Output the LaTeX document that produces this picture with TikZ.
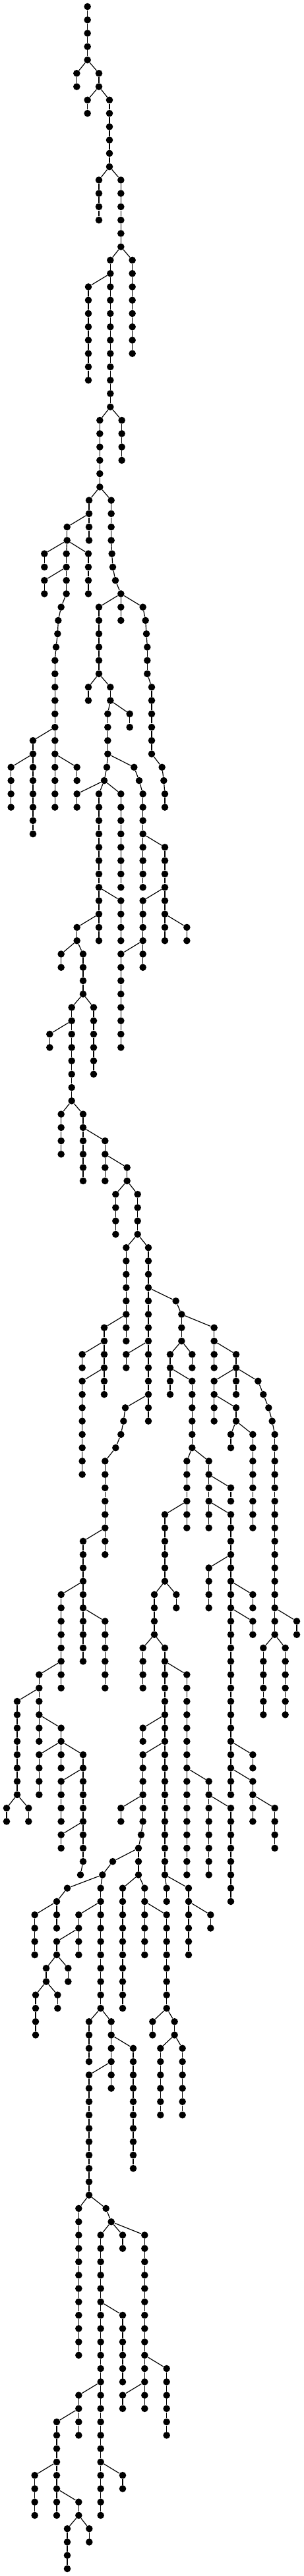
\documentclass[tikz,border=0pt]{standalone}
\tikzset{dot/.style={circle,fill=black,draw=none,minimum size=5.3pt,inner sep=0pt},
  edge/.style={line width=0.6pt,black}}
\newcommand\chain[4]{%
  \foreach \k in {#3,...,#4}{\node[dot] (#1-\k) at (#2,\k+0.4936) {};}%
  \ifnum#4>#3\relax
    \pgfmathtruncatemacro\chstart{#3+1}%
    \foreach \k in {\chstart,...,#4}{\pgfmathtruncatemacro\kp{\k-1}\draw[edge] (#1-\kp) -- (#1-\k);}%
  \fi}
\newcommand\nd[3]{\node[dot] (#1) at (#2,#3+0.4936) {};}
\newcommand\ed[2]{\draw[edge] (#1) -- (#2);}
\begin{document}
\begin{tikzpicture}[x=0.1666667pt,y=-10.13pt]
\useasboundingbox (0,0) rectangle (1380,193.04);
\chain{c1}{398}{0}{4}
\chain{c2}{349}{5}{6}
\chain{c3}{450}{5}{6}
\chain{c4}{398}{7}{8}
\chain{c5}{498}{7}{12}
\chain{c6}{450}{13}{16}
\chain{c7}{550}{13}{18}
\chain{c8}{502}{19}{30}
\chain{c9}{602}{19}{26}
\chain{c10}{402}{21}{28}
\chain{c11}{454}{31}{36}
\chain{c12}{554}{31}{34}
\chain{c13}{405}{37}{40}
\chain{c14}{506}{37}{40}
\chain{c15}{305}{39}{40}
\chain{c16}{202}{41}{42}
\chain{c17}{302}{41}{44}
\chain{c18}{402}{41}{44}
\chain{c19}{202}{43}{44}
\chain{c20}{250}{49}{60}
\chain{c21}{450}{45}{50}
\chain{c22}{550}{45}{46}
\chain{c23}{670}{48}{50}
\chain{c24}{690}{51}{56}
\chain{c25}{750}{59}{60}
\chain{c26}{150}{55}{62}
\chain{c27}{350}{57}{58}
\chain{c28}{50}{57}{60}
\chain{c29}{402}{51}{52}
\chain{c30}{502}{51}{52}
\chain{c31}{590}{53}{54}
\chain{c32}{490}{53}{56}
\chain{c33}{350}{59}{60}
\chain{c34}{450}{59}{70}
\chain{c35}{550}{59}{66}
\chain{c37}{650}{59}{66}
\chain{c38}{750}{63}{70}
\chain{c39}{550}{67}{70}
\chain{c40}{350}{69}{70}
\chain{c41}{650}{67}{72}
\chain{c42}{850}{69}{70}
\chain{c43}{550}{71}{78}
\chain{c44}{278}{71}{72}
\chain{c45}{378}{71}{74}
\chain{c46}{326}{75}{82}
\chain{c47}{426}{75}{80}
\chain{c48}{226}{77}{78}
\chain{c49}{278}{83}{86}
\chain{c50}{378}{83}{88}
\chain{c51}{478}{85}{88}
\chain{c52}{578}{87}{88}
\chain{c53}{526}{89}{92}
\chain{c54}{626}{89}{92}
\chain{c55}{574}{93}{100}
\chain{c56}{675}{93}{106}
\chain{c57}{826}{98}{100}
\chain{c58}{974}{99}{102}
\chain{c59}{774}{101}{104}
\chain{c60}{874}{101}{102}
\chain{c61}{874}{103}{108}
\chain{c62}{850}{109}{114}
\chain{c63}{950}{109}{114}
\chain{c64}{1050}{111}{112}
\chain{c65}{1050}{113}{134}
\chain{c66}{1074}{101}{102}
\chain{c67}{974}{103}{106}
\chain{c68}{1074}{103}{104}
\chain{c69}{1250}{107}{122}
\chain{c70}{1074}{105}{106}
\chain{c71}{1050}{107}{108}
\chain{c72}{1150}{107}{114}
\chain{c73}{1350}{121}{122}
\chain{c74}{1198}{123}{128}
\chain{c75}{1298}{123}{128}
\chain{c76}{474}{99}{104}
\chain{c77}{374}{101}{102}
\chain{c78}{374}{103}{110}
\chain{c79}{574}{101}{102}
\chain{c80}{478}{109}{116}
\chain{c81}{378}{115}{124}
\chain{c82}{478}{121}{126}
\chain{c83}{278}{119}{126}
\chain{c84}{178}{125}{130}
\chain{c85}{78}{127}{134}
\chain{c86}{30}{135}{136}
\chain{c87}{130}{135}{136}
\chain{c88}{278}{129}{130}
\chain{c89}{178}{131}{134}
\chain{c90}{278}{131}{132}
\chain{c91}{378}{131}{139}
\chain{c92}{278}{133}{136}
\chain{c93}{278}{137}{138}
\chain{c94}{750}{113}{118}
\chain{c95}{702}{119}{122}
\chain{c96}{802}{119}{120}
\chain{c97}{650}{123}{126}
\chain{c98}{750}{123}{140}
\chain{c99}{850}{125}{140}
\chain{c100}{950}{133}{140}
\chain{c101}{950}{117}{120}
\chain{c102}{1150}{119}{120}
\chain{c103}{1150}{121}{122}
\chain{c104}{1150}{131}{132}
\chain{c105}{1150}{133}{136}
\chain{c106}{1250}{135}{138}
\chain{c107}{1050}{135}{142}
\chain{c108}{650}{129}{130}
\chain{c109}{650}{131}{136}
\chain{c110}{630}{138}{140}
\chain{c111}{550}{135}{136}
\chain{c112}{458}{141}{150}
\chain{c113}{158}{143}{146}
\chain{c114}{258}{143}{144}
\chain{c115}{358}{143}{146}
\chain{c116}{558}{141}{150}
\chain{c117}{658}{141}{146}
\chain{c118}{758}{143}{150}
\chain{c119}{758}{141}{142}
\chain{c120}{858}{141}{146}
\chain{c121}{958}{143}{144}
\chain{c122}{258}{145}{146}
\chain{c123}{310}{147}{148}
\chain{c124}{210}{147}{148}
\chain{c125}{162}{149}{152}
\chain{c126}{262}{149}{150}
\chain{c127}{405}{151}{154}
\chain{c128}{506}{151}{156}
\chain{c129}{606}{153}{162}
\chain{c130}{405}{155}{164}
\chain{c131}{694}{151}{152}
\chain{c132}{794}{151}{152}
\chain{c133}{730}{153}{158}
\chain{c134}{830}{153}{158}
\chain{c135}{358}{165}{176}
\chain{c136}{458}{167}{188}
\chain{c137}{558}{167}{168}
\chain{c138}{658}{167}{180}
\chain{c139}{558}{173}{178}
\chain{c140}{758}{177}{182}
\chain{c141}{558}{179}{180}
\chain{c142}{358}{179}{182}
\chain{c143}{258}{181}{188}
\chain{c144}{158}{185}{188}
\chain{c145}{358}{187}{188}
\chain{c146}{306}{189}{192}
\chain{c147}{406}{189}{190}
\chain{c148}{558}{185}{186}
% single nodes
\nd{n41}{509}{41}\nd{n42}{513}{42}\nd{n43}{525}{43}\nd{n44}{550}{44}
\nd{p45}{278}{45}\nd{p46}{265}{46}\nd{p47}{262}{47}\nd{p48}{255}{48}
\nd{q45}{650}{45}\nd{q46}{662}{46}\nd{q47}{666}{47}
\nd{s57}{737}{57}\nd{s58}{745}{58}
\nd{t57}{486}{57}\nd{t58}{474}{58}
\nd{u57}{610}{57}\nd{u58}{633}{58}
\nd{v97}{800}{97}
\nd{w103}{1174}{103}\nd{w104}{1198}{104}\nd{w105}{1222}{105}\nd{w106}{1238}{106}
\nd{x105}{570}{105}\nd{x106}{562}{106}\nd{x107}{550}{107}\nd{x108}{526}{108}
\nd{y140}{366}{140}
\nd{z137}{642}{137}
\nd{a139}{513}{139}\nd{a140}{466}{140}
\nd{b141}{306}{141}\nd{b142}{258}{142}
\nd{d165}{482}{165}\nd{d166}{506}{166}
% links
\ed{c1-4}{c2-5}\ed{c1-4}{c3-5}
\ed{c3-6}{c4-7}\ed{c3-6}{c5-7}
\ed{c5-12}{c6-13}\ed{c5-12}{c7-13}
\ed{c7-18}{c8-19}\ed{c7-18}{c9-19}
\ed{c8-20}{c10-21}
\ed{c8-30}{c11-31}\ed{c8-30}{c12-31}
\ed{c11-36}{c13-37}\ed{c11-36}{c14-37}
\ed{c14-40}{n41}\ed{n41}{n42}\ed{n42}{n43}\ed{n43}{n44}
\ed{c13-38}{c15-39}
\ed{c15-40}{c16-41}\ed{c15-40}{c17-41}\ed{c15-40}{c18-41}
\ed{c17-42}{c19-43}
\ed{c17-44}{p45}\ed{p45}{p46}\ed{p46}{p47}\ed{p47}{p48}\ed{p48}{c20-49}
\ed{n44}{c21-45}\ed{n44}{c22-45}
\ed{n44}{q45}\ed{q45}{q46}\ed{q46}{q47}\ed{q47}{c23-48}
\ed{c23-50}{c24-51}
\ed{c24-56}{s57}\ed{s57}{s58}\ed{s58}{c25-59}
\ed{c20-54}{c26-55}\ed{c20-56}{c27-57}\ed{c26-56}{c28-57}
\ed{c21-50}{c29-51}\ed{c21-50}{c30-51}
\ed{c30-52}{c31-53}\ed{c30-52}{c32-53}
\ed{c32-56}{t57}\ed{t57}{t58}\ed{c32-56}{u57}\ed{u57}{u58}\ed{u58}{c37-59}
\ed{t58}{c33-59}\ed{t58}{c34-59}\ed{t58}{c35-59}
\ed{c37-62}{c38-63}
\ed{c34-66}{c39-67}\ed{c34-68}{c40-69}
\ed{c38-66}{c41-67}\ed{c38-68}{c42-69}
\ed{c41-70}{c43-71}
\ed{c40-70}{c44-71}\ed{c40-70}{c45-71}
\ed{c45-74}{c46-75}\ed{c45-74}{c47-75}
\ed{c46-76}{c48-77}
\ed{c46-82}{c49-83}\ed{c46-82}{c50-83}
\ed{c50-84}{c51-85}\ed{c51-86}{c52-87}
\ed{c52-88}{c53-89}\ed{c52-88}{c54-89}
\ed{c54-92}{c55-93}\ed{c54-92}{c56-93}
\ed{c56-96}{v97}\ed{v97}{c57-98}
\ed{c57-98}{c58-99}
\ed{c57-100}{c59-101}\ed{c57-100}{c60-101}
\ed{c59-102}{c61-103}
\ed{c61-108}{c62-109}\ed{c61-108}{c63-109}
\ed{c63-110}{c64-111}\ed{c63-112}{c65-113}
\ed{c58-100}{c66-101}
\ed{c66-102}{c67-103}\ed{c66-102}{c68-103}
\ed{c66-102}{w103}\ed{w103}{w104}\ed{w104}{w105}\ed{w105}{w106}\ed{w106}{c69-107}
\ed{c67-104}{c70-105}
\ed{c70-106}{c71-107}\ed{c70-106}{c72-107}
\ed{c69-120}{c73-121}
\ed{c69-122}{c74-123}\ed{c69-122}{c75-123}
\ed{c55-98}{c76-99}
\ed{c76-100}{c77-101}\ed{c76-102}{c78-103}
\ed{c56-100}{c79-101}
\ed{c56-104}{x105}\ed{x105}{x106}\ed{x106}{x107}\ed{x107}{x108}\ed{x108}{c80-109}
\ed{c80-114}{c81-115}
\ed{c81-120}{c82-121}\ed{c81-118}{c83-119}
\ed{c83-124}{c84-125}\ed{c84-126}{c85-127}
\ed{c85-134}{c86-135}\ed{c85-134}{c87-135}
\ed{c84-128}{c88-129}
\ed{c88-130}{c89-131}\ed{c88-130}{c90-131}\ed{c88-130}{c91-131}
\ed{c91-139}{y140}
\ed{c91-132}{c92-133}\ed{c91-136}{c93-137}
\ed{c62-112}{c94-113}
\ed{c94-118}{c95-119}\ed{c94-118}{c96-119}
\ed{c95-122}{c97-123}\ed{c95-122}{c98-123}
\ed{c98-124}{c99-125}
\ed{c99-132}{c100-133}
\ed{c65-116}{c101-117}\ed{c65-118}{c102-119}\ed{c65-120}{c103-121}
\ed{c65-130}{c104-131}\ed{c65-132}{c105-133}
\ed{c105-134}{c106-135}
\ed{c100-134}{c107-135}
\ed{c98-128}{c108-129}\ed{c98-130}{c109-131}
\ed{c109-136}{z137}\ed{z137}{c110-138}
\ed{c109-134}{c111-135}
\ed{c110-138}{a139}\ed{a139}{a140}
\ed{a140}{b141}\ed{b141}{b142}
\ed{a140}{c112-141}
\ed{b142}{c113-143}\ed{b142}{c114-143}
\ed{c112-142}{c115-143}
\ed{c110-140}{c116-141}\ed{c110-140}{c117-141}
\ed{c117-142}{c118-143}
\ed{c98-140}{c119-141}\ed{c98-140}{c120-141}
\ed{c120-142}{c121-143}
\ed{c115-144}{c122-145}
\ed{c122-146}{c123-147}\ed{c122-146}{c124-147}
\ed{c124-148}{c125-149}\ed{c124-148}{c126-149}
\ed{c112-150}{c127-151}\ed{c112-150}{c128-151}
\ed{c128-152}{c129-153}\ed{c128-154}{c130-155}
\ed{c118-150}{c131-151}\ed{c118-150}{c132-151}
\ed{c132-152}{c133-153}\ed{c132-152}{c134-153}
\ed{c130-164}{c135-165}
\ed{c130-164}{d165}\ed{d165}{d166}
\ed{d166}{c136-167}\ed{d166}{c137-167}\ed{d166}{c138-167}
\ed{c136-172}{c139-173}
\ed{c138-176}{c140-177}\ed{c138-178}{c141-179}
\ed{c136-178}{c142-179}
\ed{c142-180}{c143-181}
\ed{c143-184}{c144-185}\ed{c143-186}{c145-187}
\ed{c145-188}{c146-189}\ed{c145-188}{c147-189}
\ed{c136-184}{c148-185}
\end{tikzpicture}
\end{document}
